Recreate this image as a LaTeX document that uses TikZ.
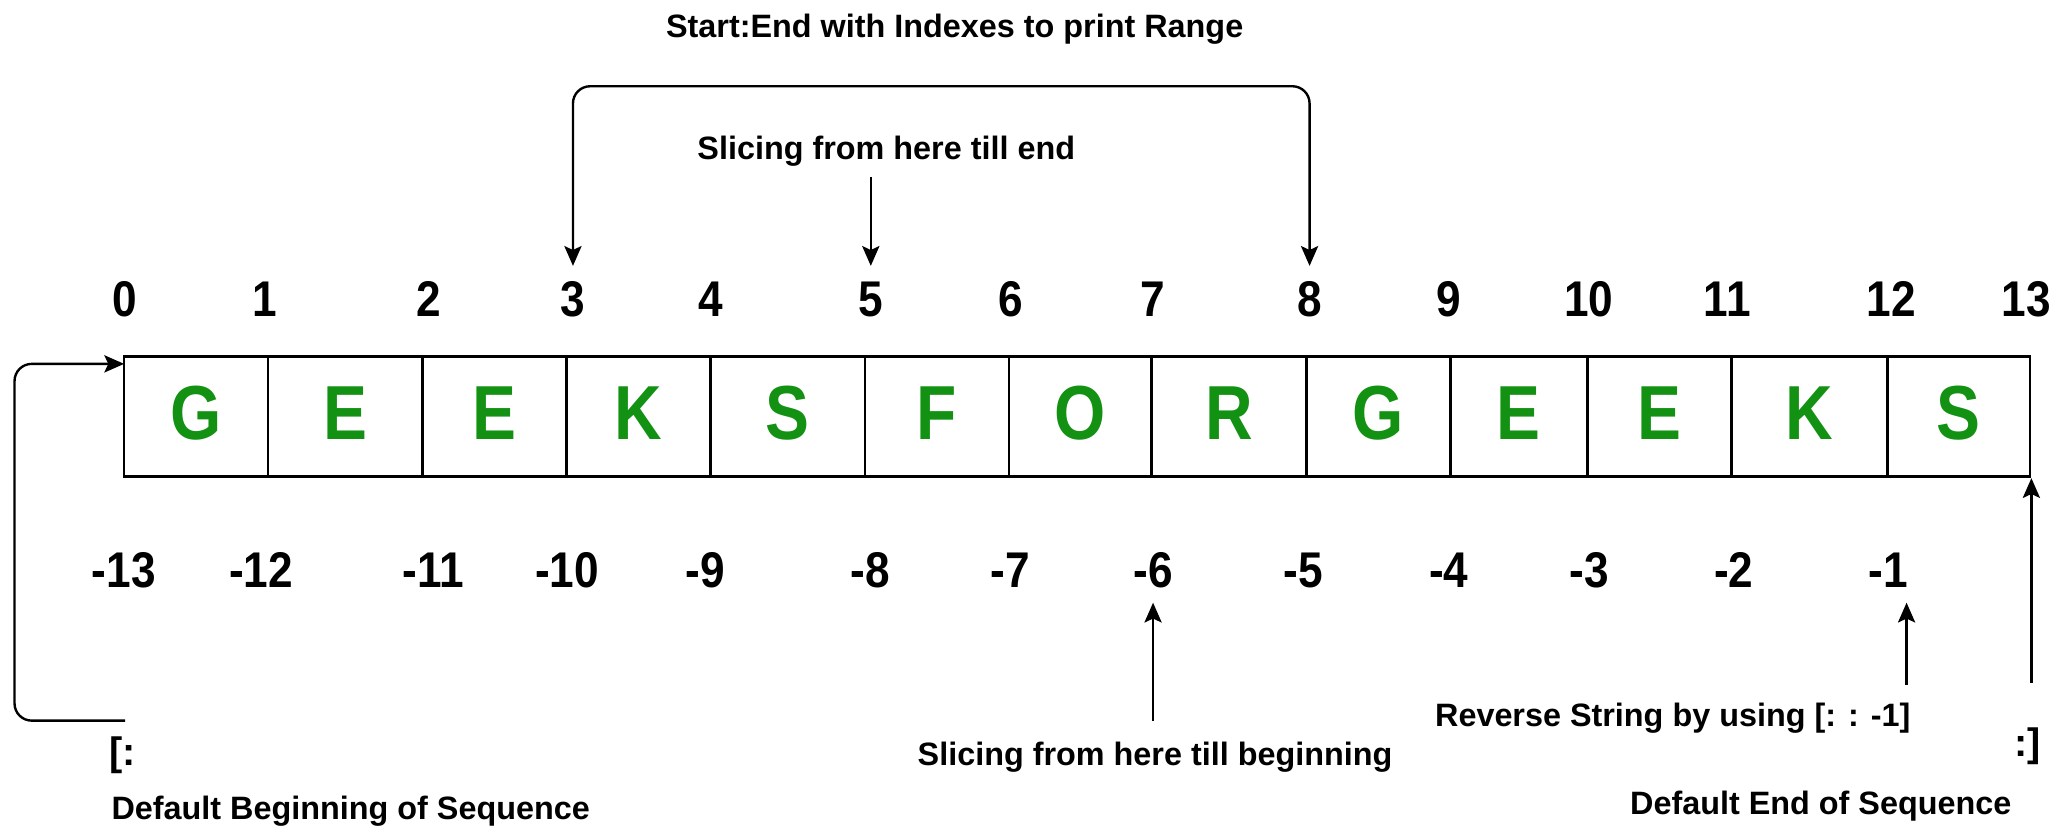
\documentclass[tikz,border=0pt]{standalone}
\usepackage{fontspec}
\setmainfont{Liberation Sans}
\newfontfamily\letterfont{Liberation Sans}[FakeStretch=0.86]
\newfontfamily\numberfont{Liberation Sans}[FakeStretch=0.88]
\usetikzlibrary{arrows.meta,calc}
\definecolor{gfg}{RGB}{18,145,18}
\begin{document}
\begin{tikzpicture}[x=1pt,y=-1pt,
  >={Stealth[length=15pt,width=13pt,inset=3pt]},
  cell/.style={draw, line width=2pt, minimum height=91pt, inner sep=0pt, text=gfg,
    font=\letterfont\fontsize{58}{60}\selectfont\bfseries, text height=41.5pt, text depth=7pt},
  num/.style={font=\numberfont\fontsize{38}{40}\selectfont\bfseries, text height=27pt, text depth=0pt,
    inner xsep=1pt, inner ysep=11pt},
  lbl/.style={font=\fontsize{24.5}{26}\selectfont\bfseries, text height=17.5pt, text depth=0pt, inner sep=0pt},
  brk/.style={font=\fontsize{30}{32}\selectfont\bfseries, inner sep=0pt},
  arr/.style={->, line width=1.8pt},
  darr/.style={<->, line width=1.8pt, rounded corners=13pt}
]
\fill[white] (0,0) rectangle (1568,631);
\useasboundingbox (0,0) rectangle (1568,631);

% cells
\foreach \l/\r/\ch [count=\i from 0] in {94/203/G,203/320/E,320/429/E,429/538/K,538/655/S,655/764/F,764/872/O,872/989/R,989/1098/G,1098/1202/E,1202/1311/E,1311/1429/K,1429/1537/S}
  \node[cell, minimum width={(\r-\l)*1pt}] (c\i) at ({(\l+\r)/2},315.5) {\ch};

% positive indexes
\foreach \v/\x in {0/94.4,1/200.6,2/325,3/433.8,4/538.4,5/659.3,6/765.5,7/873,8/991.5,9/1097,10/1203,11/1307.7,12/1431.9,13/1534}
  \node[num] (t\v) at (\x,226) {\v};

% negative indexes
\foreach \v/\x in {13/93.7,12/197.6,11/327.9,10/429.3,9/534,8/658.7,7/764.7,6/873,5/986.5,4/1097,3/1203,2/1312.6,1/1429.5}
  \node[num] (n\v) at (\x,431.6) {-\v};

% labels
\node[lbl] (range) at (722.8,20) {Start:End with Indexes to print Range};
\node[lbl] (fromhere) at (671,112) {Slicing from here till end};
\node[lbl] (tillbeg) at (874.5,571) {Slicing from here till beginning};
\node[lbl] (rev) at (1266.5,541) {Reverse String by using [: : -1]};
\node[lbl] (defbeg) at (265.5,612) {Default Beginning of Sequence};
\node[lbl] (defend) at (1378.5,608) {Default End of Sequence};
\node[brk] (open) at (92.6,571.6) {[:};
\node[brk] (close) at (1535,565) {:]};

% connectors
\draw[darr] (t3.north) -- ($(t3.north)+(0,-136)$) -| (t8.north);
\draw[arr] ($(t5.north |- fromhere.south)+(0,13)$) -- (t5.north);
\draw[arr] ($(n6.south |- tillbeg.north)+(0,-16)$) -- (n6.south);
\draw[arr] ($(n1.south)+(14,62)$) -- ($(n1.south)+(14,0)$);
\draw[arr] ($(c12.south east)+(0,155)$) -- (c12.south east);
\coordinate (lstart) at (94.7,545.6);
\draw[arr, rounded corners=13pt] (lstart) -| ($(c0.north west)+(-82,6.5)$) -- ($(c0.north west)+(1,6.5)$);
\end{tikzpicture}
\end{document}
